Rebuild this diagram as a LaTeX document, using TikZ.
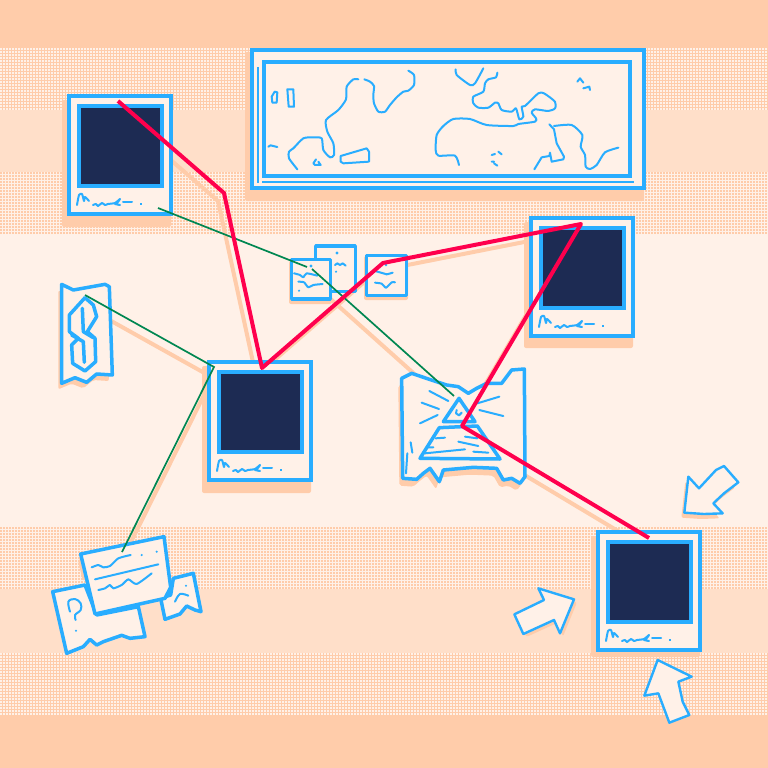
\documentclass[tikz,border=0pt]{standalone}
\definecolor{peach}{HTML}{FFCCAA}
\definecolor{paper}{HTML}{FFF1E8}
\definecolor{midband}{HTML}{FFDFC9}
\definecolor{wire}{HTML}{29ADFF}
\definecolor{navy}{HTML}{1D2B53}
\definecolor{redline}{HTML}{FF004D}
\definecolor{greenline}{HTML}{008751}
\tikzstyle{ink}      = [draw=wire,line width=3.5pt,line join=round,line cap=round,fill=paper]
\tikzstyle{pen}      = [draw=wire,line width=2pt,line join=round,line cap=round]
\tikzstyle{frame}    = [draw=wire,line width=4.4pt,fill=paper]
\tikzstyle{cast}     = [fill=peach,draw=none,rounded corners=2pt]
\tikzstyle{castline} = [draw=peach,line width=4pt]
\tikzstyle{redpath}  = [draw=redline,line width=4pt,line join=round]
\tikzstyle{greenpath}= [draw=greenline,line width=1.7pt]
\tikzset{zoomed/.style 2 args={shift={(#1,#2)},x=0.33333pt,y=-0.33333pt}}
% dithered rows between y=#1 and y=#2 in colour #3
\newcommand{\bandsparse}[3]{
	\pgfmathtruncatemacro{\rowcount}{(#2-#1-1)/3}
	\foreach \row in {0,...,\rowcount}
		\draw[#3,line width=2pt,dash pattern=on 2pt off 1pt] (0,#1+3*\row+1) -- (768,#1+3*\row+1);
}
% polaroid, top left corner at #1,#2
\newcommand{\photo}[2]{
	\begin{scope}[shift={(#1,#2)}]
		\draw[frame] (2,2) rectangle (104,120);
		\draw[frame,fill=navy] (12,12) rectangle (95,92);
		\draw[pen] plot[smooth,tension=0.4] coordinates {(10,111) (12,101) (15,100) (17,107) (18,103) (22,107)};
		\draw[pen] plot[smooth,tension=0.4] coordinates {(26,111) (29,110) (31,112) (35,109) (38,111) (41,110) (48,109) (53,105) (50,109) (48,110) (53,111)};
		\draw[pen] (56,108) -- (65,108);
		\fill[wire] (73,109) rectangle (75,111);
	\end{scope}
}
\newcommand{\photocast}[3]{\fill[cast] (#1-5,#2+6) rectangle (#1+104,#2+122+#3);}
\newcommand{\castat}[1]{([shift={(-6,8)}]#1)}
\newcommand{\panelpath}{(35,55) -- (65,40) -- (130,62) -- (170,75) -- (205,80) -- (235,100) -- (260,85) -- (290,70) -- (335,70) -- (365,30) -- (403,27) -- (405,350) -- (390,370) -- (365,355) -- (340,360) -- (320,325) -- (250,322) -- (160,330) -- (148,365) -- (120,325) -- (100,340) -- (80,358) -- (38,355) -- cycle}
\newcommand{\scrappath}{(35,28) -- (70,45) -- (165,28) -- (178,35) -- (187,300) -- (140,297) -- (110,322) -- (75,308) -- (35,325) -- cycle}
\newcommand{\pointerone}{(565,50) -- (597,85) -- (648,30) -- (672,18) -- (715,67) -- (672,100) -- (640,130) -- (668,160) -- (612,162) -- (553,158) -- cycle}
\newcommand{\pointertwo}{(115,385) -- (222,418) -- (180,520) -- (162,480) -- (70,522) -- (43,463) -- (132,420) -- cycle}
\newcommand{\pointerthree}{(473,600) -- (575,650) -- (535,665) -- (548,725) -- (568,765) -- (508,788) -- (475,700) -- (433,707) -- cycle}
\begin{document}
\begin{tikzpicture}[x=1pt,y=-1pt]
	\useasboundingbox (0,0) rectangle (768,768);
	% background bands
	\fill[paper] (0,0) rectangle (768,768);
	\fill[peach] (0,0) rectangle (768,110);
	\fill[peach] (0,653) rectangle (768,768);
	\fill[midband] (0,110) rectangle (768,172);
	\fill[midband] (0,589) rectangle (768,653);
	\bandsparse{48}{110}{paper}
	\bandsparse{172}{235}{peach}
	\bandsparse{527}{589}{peach}
	\bandsparse{653}{715}{paper}
	% pins
	\coordinate (redA) at (118,101);
	\coordinate (redB) at (224,193);
	\coordinate (redC) at (262,368);
	\coordinate (redD) at (383,263);
	\coordinate (redE) at (581,224);
	\coordinate (redF) at (462,426);
	\coordinate (redG) at (649,538);
	\coordinate (greenA) at (158,208);
	\coordinate (greenB) at (307,267);
	\coordinate (greenC) at (312,269);
	\coordinate (greenD) at (454,396);
	\coordinate (greenE) at (85,295);
	\coordinate (greenF) at (214,367);
	\coordinate (greenG) at (122,552);
	% cast shadows
	\draw[castline] \castat{redA} -- \castat{redB} -- \castat{redC} -- \castat{redD} -- \castat{redE} -- \castat{redF} -- \castat{redG};
	\draw[castline] \castat{greenC} -- \castat{greenD};
	\draw[castline] \castat{greenE} -- \castat{greenF};
	\draw[castline] ([xshift=4pt]greenF) -- ([xshift=4pt]greenG);
	\fill[cast] (245,52) rectangle (644,201);
	\photocast{67}{94}{11}
	\photocast{529}{216}{10}
	\photocast{207}{360}{11}
	\photocast{596}{530}{5}
	\fill[cast] (289,261) rectangle (332,304);
	\fill[cast] (364,256) rectangle (408,300);
	\begin{scope}[zoomed={50}{275}]
		\fill[cast,shift={(-10,18)}] \scrappath;
	\end{scope}
	\begin{scope}[zoomed={390}{360}]
		\fill[cast,shift={(-10,22)}] \panelpath;
	\end{scope}
	\begin{scope}[zoomed={500}{460}]
		\fill[cast,shift={(-9,15)}] \pointerone;
		\fill[cast,shift={(9,9)}] \pointertwo;
	\end{scope}
	\begin{scope}[zoomed={40}{530}]
		\fill[cast] (114,90) -- (126,84) -- (137,150) -- (128,152) -- cycle;
	\end{scope}
	% world map
	\draw[frame] (252,50) rectangle (644,188);
	\draw[frame] (264,62) rectangle (630,176);
	\draw[draw=wire,line width=2pt] (258,67) -- (258,183);
	\draw[draw=wire,line width=2pt] (262,182) -- (634,182);
	\begin{scope}[zoomed={240}{40}]
		\draw[pen] plot[smooth,tension=0.4] coordinates {(505,92) (522,105) (522,135) (505,152) (490,155) (470,172) (450,195) (435,215) (415,215) (402,190) (400,165) (402,138) (390,125) (373,118)};
		\draw[pen] plot[smooth,tension=0.4] coordinates {(355,118) (340,118) (320,140) (318,178) (295,210) (258,240) (262,275) (280,310) (282,345) (270,352) (250,330) (245,295) (220,292) (190,295) (160,325) (147,335) (147,355) (172,388)};
		\draw[pen] (85,320) -- (92,316) -- (112,321);
		\draw[pen] (142,148) -- (160,148) -- (162,200) -- (146,200) -- cycle;
		\draw[pen] (104,155) -- (112,157) -- (110,188) -- (97,188) -- (95,170) -- cycle;
		\draw[pen] (302,348) -- (380,325) -- (387,335) -- (387,365) -- (310,370) -- (302,365) -- cycle;
		\draw[pen] (228,358) -- (220,370) -- (225,375) -- (242,375) -- (235,365);
		\draw[pen] plot[smooth,tension=0.4] coordinates {(647,88) (650,105) (690,135) (705,130) (730,85)};
		\draw[pen] plot[smooth,tension=0.4] coordinates {(772,98) (768,112) (745,118) (735,130) (730,155) (700,170) (700,190) (715,203) (745,203) (765,188) (775,190) (785,210) (815,215) (828,205) (838,238) (850,230) (845,200) (855,198) (895,160) (912,160) (945,185) (945,205) (925,213) (885,208) (875,218) (888,235) (885,245) (835,252) (820,258) (740,255) (690,237) (640,237) (610,258) (590,285) (587,330) (595,347) (645,347) (657,375)};
		\draw[pen] (928,253) -- (942,268) -- (950,310) -- (972,350) -- (970,358) -- (935,365) -- (930,338) -- (928,348) -- (905,352) -- (883,388);
		\draw[pen] plot[smooth,tension=0.4] coordinates {(942,258) (995,255) (1027,285) (1022,320) (1035,345) (1037,380) (1050,387) (1070,375) (1095,337) (1135,323)};
		\draw[pen] (1012,125) -- (1020,115) -- (1030,128);
		\draw[pen] (1030,145) -- (1048,140) -- (1050,150);
		\draw[pen] (755,345) -- (765,342) (775,335) -- (785,343) (755,365) -- (762,365) (762,370) -- (772,377);
	\end{scope}
	% polaroids
	\photo{67}{94}
	\photo{529}{216}
	\photo{207}{360}
	\photo{596}{530}
	% small pictures
	\begin{scope}[zoomed={280}{235}]
		\draw[ink] (107,33) rectangle (226,170);
		\fill[wire] (171,54) circle (5);
		\draw[pen] (165,90) -- (172,85) -- (180,90) -- (188,85) -- (197,92);
		\fill[wire] (168,110) circle (3.5);
		\draw[ink] (35,74) rectangle (151,192);
		\fill[wire] (93,93) circle (5);
		\draw[pen] plot[smooth,tension=0.4] coordinates {(42,115) (60,120) (70,127) (80,115) (112,122)};
		\draw[pen] plot[smooth,tension=0.4] coordinates {(55,140) (72,142) (85,157) (100,150) (128,147)};
		\fill[wire] (57,167) circle (3.5);
		\draw[ink] (260,62) rectangle (379,181);
		\fill[wire] (318,90) circle (4);
		\draw[pen] plot[smooth,tension=0.4] coordinates {(285,108) (310,115) (320,118) (338,113)};
		\draw[pen] plot[smooth,tension=0.4] coordinates {(285,143) (305,146) (318,158) (335,142) (345,142)};
	\end{scope}
	% banknote scrap
	\begin{scope}[zoomed={50}{275}]
		\draw[ink] \scrappath;
		\draw[ink,fill=none] (105,68) -- (130,90) -- (140,125) -- (112,170) -- (135,190) -- (137,260) -- (105,288) -- (68,265) -- (65,210) -- (85,190) -- (58,170) -- (58,120) -- cycle;
		\draw[ink,fill=none] (97,100) -- (100,170) -- (130,188);
		\draw[ink,fill=none] (65,180) -- (100,200) -- (103,262);
	\end{scope}
	% pyramid scrap
	\begin{scope}[zoomed={390}{360}]
		\draw[ink] \panelpath;
		\draw[ink,fill=none] (207,115) -- (160,185) -- (255,185) -- cycle;
		\draw[pen] (200,150) -- (198,160) -- (207,166) -- (215,158);
		\draw[ink,fill=none] (148,203) -- (262,198) -- (330,297) -- (90,295) -- cycle;
		\draw[pen] (118,93) -- (175,123) (95,128) -- (147,147) (90,190) -- (143,165) (262,130) -- (328,110) (268,150) -- (340,168);
		\draw[pen] (137,235) -- (165,233) (115,262) -- (130,262) (105,280) -- (225,268) (225,230) -- (262,235) (205,245) -- (265,258) (250,275) -- (295,278);
		\draw[pen] (62,247) -- (67,278) (52,280) -- (48,340);
	\end{scope}
	% paper pile
	\begin{scope}[zoomed={40}{530}]
		\draw[ink] (38,185) -- (135,165) -- (170,255) -- (295,230) -- (315,320) -- (270,325) -- (245,316) -- (190,335) -- (170,345) -- (150,328) -- (130,350) -- (80,370) -- cycle;
		\draw[pen] plot[smooth,tension=0.6] coordinates {(90,245) (85,215) (105,207) (122,220) (122,240) (105,255) (107,270)};
		\fill[wire] (108,302) circle (3.5);
		\draw[ink] (400,145) -- (460,130) -- (483,245) -- (465,240) -- (440,228) -- (420,252) -- (375,268) -- (362,205) -- (392,195) -- cycle;
		\fill[wire] (438,167) circle (3.5);
		\draw[pen] plot[smooth,tension=0.6] coordinates {(405,215) (420,192) (445,197)};
		\draw[ink] (122,72) -- (372,20) -- (392,172) -- (380,195) -- (375,205) -- (165,252) -- cycle;
		\draw[pen] plot[smooth,tension=0.4] coordinates {(155,112) (175,105) (190,112) (210,108) (235,85) (272,75)};
		\fill[wire] (305,75) circle (3.5);
		\fill[wire] (350,65) circle (3.5);
		\draw[pen] (165,148) -- (355,103);
		\draw[pen] plot[smooth,tension=0.4] coordinates {(175,180) (195,175) (210,165) (220,175) (245,165) (265,148) (290,162) (335,130)};
	\end{scope}
	% pointers
	\begin{scope}[zoomed={500}{460}]
		\draw[ink,line width=2.4pt] \pointerone;
		\draw[ink,line width=2.4pt] \pointertwo;
		\draw[ink,line width=2.4pt] \pointerthree;
	\end{scope}
	% threads
	\draw[greenpath] (greenA) -- (greenB);
	\draw[greenpath] (greenC) -- (greenD);
	\draw[greenpath] (greenE) -- (greenF) -- (greenG);
	\draw[redpath] (redA) -- (redB) -- (redC) -- (redD) -- (redE) -- (redF) -- (redG);
\end{tikzpicture}
\end{document}
